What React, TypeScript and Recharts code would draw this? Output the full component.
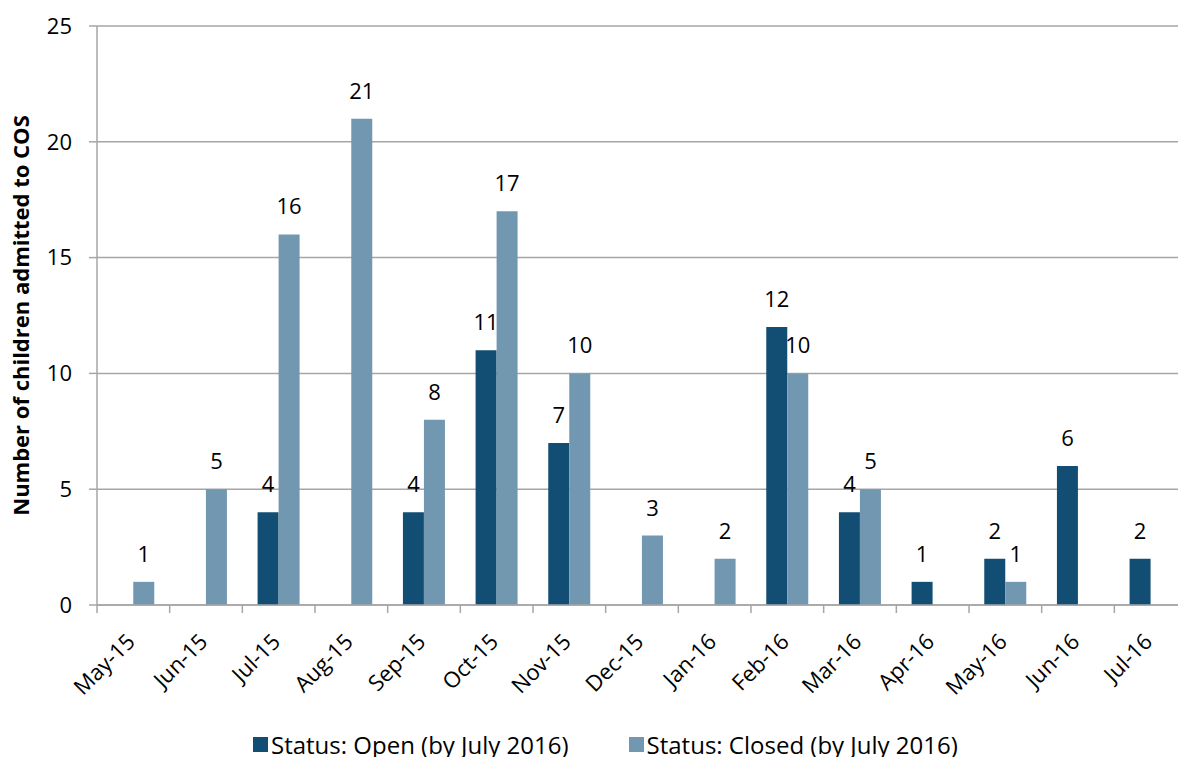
import { BarChart, Bar, XAxis, YAxis, CartesianGrid, Legend, LabelList } from 'recharts'

const months = [
  'May-15', 'Jun-15', 'Jul-15', 'Aug-15', 'Sep-15', 'Oct-15', 'Nov-15', 'Dec-15',
  'Jan-16', 'Feb-16', 'Mar-16', 'Apr-16', 'May-16', 'Jun-16', 'Jul-16',
]
// null = no bar drawn for that month
const openCases = [null, null, 4, null, 4, 11, 7, null, null, 12, 4, 1, 2, 6, 2]
const closedCases = [1, 5, 16, 21, 8, 17, 10, 3, 2, 10, 5, null, 1, null, null]
const yTicks = [0, 5, 10, 15, 20, 25]

const OPEN = '#124e73'
const CLOSED = '#7297b0'
const AXIS = '#a6a6a6'
const FONT = '"Open Sans", sans-serif'

const CHART_W = 1200
const MARGIN = { top: 26, right: 13, left: 27, bottom: 39 }
const Y_AXIS_W = 70
const BAND = (CHART_W - MARGIN.left - MARGIN.right - Y_AXIS_W) / months.length

const data = months.map((m, i) => ({ month: m, open: openCases[i], closed: closedCases[i] }))

function ValueLabel(props: { x?: number; y?: number; width?: number; value?: number | null }) {
  const { x = 0, y = 0, width = 0, value } = props
  if (value == null) return null
  return (
    <text x={x + width / 2} y={y - 20} textAnchor="middle" style={{ fontSize: 22, fill: '#000', fontFamily: FONT }}>
      {value}
    </text>
  )
}

// tick mark sits on the category boundary (Excel style), label rotated -45°
function MonthTick(props: { x?: number; y?: number; payload?: { value: string } }) {
  const { x = 0, y = 0, payload } = props
  const left = x - BAND / 2
  return (
    <g>
      <line x1={left} x2={left} y1={y - 8} y2={y} stroke={AXIS} strokeWidth={1.5} />
      <text
        x={0}
        y={0}
        textAnchor="end"
        transform={`translate(${x + 3},${y + 30}) rotate(-45)`}
        style={{ fontSize: 22, fill: '#000', fontFamily: FONT }}
      >
        {payload?.value}
      </text>
    </g>
  )
}

function LegendBox() {
  const items = [
    { label: 'Status: Open (by July 2016)', color: OPEN },
    { label: 'Status: Closed (by July 2016)', color: CLOSED },
  ]
  return (
    <div
      style={{
        display: 'flex', gap: 60, fontFamily: FONT, fontSize: 24, lineHeight: '33px',
        color: '#000', paddingLeft: 226,
      }}
    >
      {items.map((it) => (
        <div key={it.label} style={{ display: 'flex', alignItems: 'center' }}>
          <span style={{ width: 15, height: 15, background: it.color, display: 'inline-block', marginRight: 3 }} />
          {it.label}
        </div>
      ))}
    </div>
  )
}

export default function App() {
  return (
    <div style={{ position: 'absolute', left: 0, top: 0, width: 1178, height: 757, overflow: 'hidden', background: '#fff' }}>
      <BarChart width={CHART_W} height={757} data={data} margin={MARGIN} barCategoryGap="21%" barGap={0}>
        <CartesianGrid vertical={false} stroke={AXIS} strokeWidth={1.5} />
        <XAxis
          dataKey="month"
          interval={0}
          height={80}
          tick={<MonthTick />}
          tickLine={false}
          axisLine={{ stroke: AXIS, strokeWidth: 1.5 }}
        />
        <YAxis
          width={Y_AXIS_W}
          domain={[0, 25]}
          ticks={yTicks}
          tickSize={8}
          tickMargin={17}
          tickLine={{ stroke: AXIS, strokeWidth: 1.5 }}
          axisLine={{ stroke: AXIS, strokeWidth: 1.5 }}
          tick={{ fontSize: 22, fill: '#000', fontFamily: FONT }}
          label={{
            value: 'Number of children admitted to COS',
            angle: -90,
            position: 'insideLeft',
            offset: -6,
            style: { fontSize: 22, fontWeight: 700, fill: '#000', fontFamily: FONT, textAnchor: 'middle' },
          }}
        />
        <Legend verticalAlign="bottom" content={<LegendBox />} wrapperStyle={{ bottom: -4 }} />
        <Bar dataKey="open" name="Status: Open (by July 2016)" fill={OPEN} isAnimationActive={false}>
          <LabelList dataKey="open" content={<ValueLabel />} />
        </Bar>
        <Bar dataKey="closed" name="Status: Closed (by July 2016)" fill={CLOSED} isAnimationActive={false}>
          <LabelList dataKey="closed" content={<ValueLabel />} />
        </Bar>
      </BarChart>
    </div>
  )
}
